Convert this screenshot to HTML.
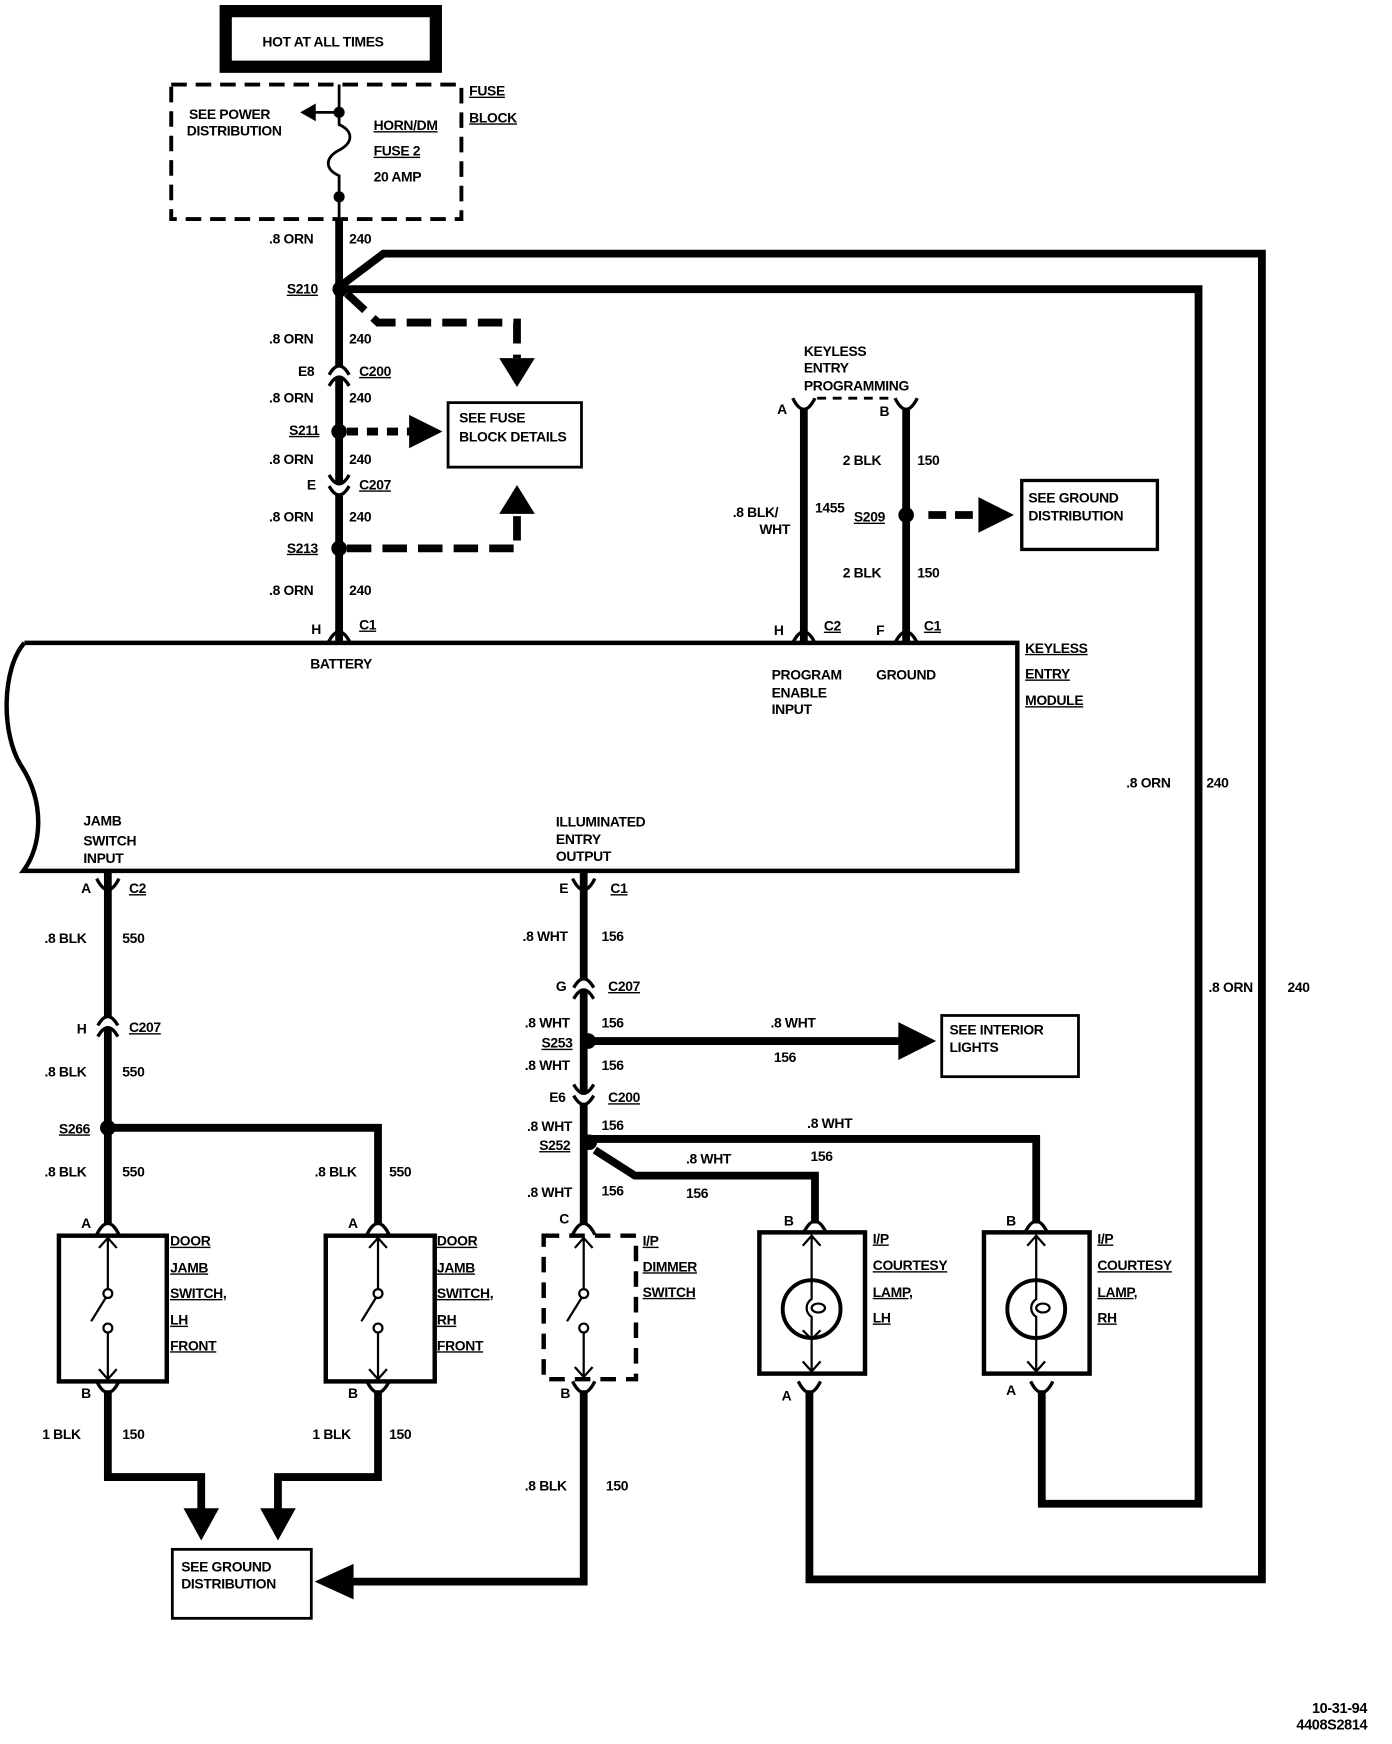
<!DOCTYPE html>
<html><head><meta charset="utf-8"><style>
html,body{margin:0;padding:0;background:#fff}
svg{display:block}
text{font-family:"Liberation Sans",sans-serif;font-weight:bold;font-size:12.5px;fill:#000;letter-spacing:-0.3px}
.u{text-decoration:underline}
</style></head><body>
<svg width="1392" height="1744" viewBox="0 0 1252 1568" preserveAspectRatio="none" xmlns="http://www.w3.org/2000/svg">
<defs>
<symbol id="icN" overflow="visible"><rect x="-13" y="-8" width="26" height="10" fill="#fff"/><path d="M-9,0 Q0,-16 9,0 M-9,10 Q0,-6 9,10" fill="none" stroke="#000" stroke-width="3"/></symbol>
<symbol id="icU" overflow="visible"><rect x="-13" y="-2" width="26" height="10" fill="#fff"/><path d="M-9,-10 Q0,6 9,-10 M-9,0 Q0,16 9,0" fill="none" stroke="#000" stroke-width="3"/></symbol>
<symbol id="cap" overflow="visible"><path d="M-10,10 Q0,-10 10,10" fill="none" stroke="#000" stroke-width="3"/></symbol>
<symbol id="cup" overflow="visible"><path d="M-10,-10 Q0,10 10,-10" fill="none" stroke="#000" stroke-width="3"/></symbol>
</defs>
<g fill="none" stroke="#000">
<!-- hot box -->
<rect x="203" y="10" width="189" height="50" stroke-width="11"/>
<!-- fuse block dashed -->
<rect x="154" y="76" width="261" height="121" stroke-width="3.5" stroke-dasharray="14,8"/>
<path d="M305,76 V112 C318,118 318,128 305,135 C292,142 292,152 305,158 V197" stroke-width="2.5"/>
<path d="M305,101 H282" stroke-width="2.5"/>
<!-- main trunk -->
<path d="M305,197 V578" stroke-width="7"/>
<!-- loops -->
<path d="M305,258 L345,228 H1135 V1420 H728 V1250" stroke-width="7"/>
<path d="M305,260 H1078 V1352 H937 V1250" stroke-width="7"/>
<!-- dashed to fuse block details -->
<path d="M312,264 L340,290 H465 V322" stroke-width="7" stroke-dasharray="22,10"/>
<path d="M312,388 H370" stroke-width="7" stroke-dasharray="10,8"/>
<path d="M312,493 H465 V462" stroke-width="7" stroke-dasharray="22,10"/>
<rect x="403" y="362" width="120" height="58" stroke-width="2.5"/>
<!-- keyless programming -->
<path d="M735,358 H805" stroke-width="2.5" stroke-dasharray="8,6"/>
<path d="M723,368 V578 M815,368 V578" stroke-width="7"/>
<path d="M835,463 H882" stroke-width="7" stroke-dasharray="16,8"/>
<rect x="919" y="432" width="122" height="62" stroke-width="3"/>
<!-- module -->
<path d="M22,578 H915 V783 H21 C38,760 40,722 20,690 C0,660 2,600 22,578" stroke-width="4"/>
<!-- jamb wires -->
<path d="M97,783 V1100 M97,1014 H340 V1100" stroke-width="7"/>
<path d="M97,1250 V1328 H181 V1360 M340,1250 V1328 H250 V1360" stroke-width="7"/>
<!-- illuminated -->
<path d="M525,783 V1100" stroke-width="7"/>
<path d="M525,936 H812" stroke-width="7"/>
<rect x="847" y="913" width="123" height="55" stroke-width="2.5"/>
<path d="M530,1024 H932 V1100 M535,1034 L571,1057 H733 V1100" stroke-width="7"/>
<path d="M525,1250 V1422 H315" stroke-width="7"/>
<rect x="155" y="1393" width="125" height="62" stroke-width="2.5"/>
<!-- switch boxes -->
<rect x="53" y="1111" width="97" height="131" stroke-width="4"/>
<rect x="293" y="1111" width="98" height="131" stroke-width="4"/>
<rect x="489" y="1111" width="83" height="129" stroke-width="4" stroke-dasharray="14,9"/>
<rect x="683" y="1108" width="95" height="127" stroke-width="4"/>
<rect x="885" y="1108" width="95" height="127" stroke-width="4"/>
<g stroke-width="2">
<path d="M97,1113 V1158 M89,1122 L97,1113 105,1122 M97,1198 V1240 M89,1231 L97,1240 105,1231 M95,1167 L82,1188"/>
<circle cx="97" cy="1163" r="4"/><circle cx="97" cy="1194" r="4"/>
<path d="M340,1113 V1158 M332,1122 L340,1113 348,1122 M340,1198 V1240 M332,1231 L340,1240 348,1231 M338,1167 L325,1188"/>
<circle cx="340" cy="1163" r="4"/><circle cx="340" cy="1194" r="4"/>
<path d="M525,1113 V1158 M517,1122 L525,1113 533,1122 M525,1198 V1238 M517,1229 L525,1238 533,1229 M523,1167 L510,1188"/>
<circle cx="525" cy="1163" r="4"/><circle cx="525" cy="1194" r="4"/>
<path d="M730,1111 V1168 C724,1172 724,1180 730,1184 V1233 M722,1120 L730,1111 738,1120 M722,1224 L730,1233 738,1224 M722,1196 L730,1204 738,1196"/>
<ellipse cx="736" cy="1176" rx="6" ry="4"/>
<circle cx="730" cy="1177" r="26" stroke-width="3.5"/>
<path d="M932,1111 V1168 C926,1172 926,1180 932,1184 V1233 M924,1120 L932,1111 940,1120 M924,1224 L932,1233 940,1224"/>
<ellipse cx="938" cy="1176" rx="6" ry="4"/>
<circle cx="932" cy="1177" r="26" stroke-width="3.5"/>
</g>
</g>
<!-- connectors -->
<use href="#icN" x="305" y="337"/>
<use href="#icU" x="305" y="437"/>
<use href="#cap" x="305" y="568"/>
<use href="#cap" x="723" y="568"/>
<use href="#cap" x="815" y="568"/>
<use href="#cup" x="723" y="368"/>
<use href="#cup" x="815" y="368"/>
<use href="#cup" x="97" y="800"/>
<use href="#cup" x="525" y="800"/>
<use href="#icN" x="97" y="922"/>
<use href="#icN" x="525" y="888"/>
<use href="#icU" x="525" y="985"/>
<use href="#cap" x="97" y="1100"/>
<use href="#cap" x="340" y="1100"/>
<use href="#cap" x="525" y="1100"/>
<use href="#cap" x="733" y="1098"/>
<use href="#cap" x="932" y="1098"/>
<use href="#cup" x="97" y="1252"/>
<use href="#cup" x="340" y="1252"/>
<use href="#cup" x="525" y="1252"/>
<use href="#cup" x="728" y="1252"/>
<use href="#cup" x="937" y="1252"/>
<!-- dots & arrowheads -->
<g fill="#000">
<circle cx="305" cy="101" r="5"/><circle cx="305" cy="177" r="5"/>
<path d="M270,101 L284,93 L284,109 Z"/>
<circle cx="306" cy="260" r="7"/><circle cx="305" cy="388" r="7"/><circle cx="305" cy="493" r="7"/>
<path d="M449,322 H481 L465,348 Z"/>
<path d="M449,462 H481 L465,436 Z"/>
<path d="M368,373 L398,388 L368,403 Z"/>
<circle cx="815" cy="463" r="7"/>
<path d="M880,447 L912,463 L880,479 Z"/>
<circle cx="97" cy="1014" r="7"/>
<circle cx="529" cy="936" r="7"/>
<path d="M808,919 L842,936 L808,953 Z"/>
<circle cx="530" cy="1027" r="7"/>
<path d="M165,1356 H197 L181,1385 Z"/>
<path d="M234,1356 H266 L250,1385 Z"/>
<path d="M318,1406 L283,1422 L318,1438 Z"/>
</g>
<!-- text -->
<text x="236" y="42">HOT AT ALL TIMES</text>
<text x="422" y="86" class="u">FUSE</text>
<text x="422" y="110" class="u">BLOCK</text>
<text x="170" y="107">SEE POWER</text>
<text x="168" y="122">DISTRIBUTION</text>
<text x="336" y="117" class="u">HORN/DM</text>
<text x="336" y="140" class="u">FUSE 2</text>
<text x="336" y="163">20 AMP</text>
<text x="242" y="219">.8 ORN</text><text x="314" y="219">240</text>
<text x="258" y="264" class="u">S210</text>
<text x="242" y="309">.8 ORN</text><text x="314" y="309">240</text>
<text x="268" y="338">E8</text><text x="323" y="338" class="u">C200</text>
<text x="242" y="362">.8 ORN</text><text x="314" y="362">240</text>
<text x="260" y="391" class="u">S211</text>
<text x="242" y="417">.8 ORN</text><text x="314" y="417">240</text>
<text x="276" y="440">E</text><text x="323" y="440" class="u">C207</text>
<text x="242" y="469">.8 ORN</text><text x="314" y="469">240</text>
<text x="258" y="497" class="u">S213</text>
<text x="242" y="535">.8 ORN</text><text x="314" y="535">240</text>
<text x="280" y="570">H</text><text x="323" y="566" class="u">C1</text>
<text x="413" y="380">SEE FUSE</text>
<text x="413" y="397">BLOCK DETAILS</text>
<text x="723" y="320">KEYLESS</text>
<text x="723" y="335">ENTRY</text>
<text x="723" y="351">PROGRAMMING</text>
<text x="699" y="372">A</text><text x="791" y="374">B</text>
<text x="758" y="418">2 BLK</text><text x="825" y="418">150</text>
<text x="659" y="465">.8 BLK/</text><text x="683" y="480">WHT</text>
<text x="733" y="461">1455</text>
<text x="768" y="469" class="u">S209</text>
<text x="758" y="519">2 BLK</text><text x="825" y="519">150</text>
<text x="925" y="452">SEE GROUND</text>
<text x="925" y="468">DISTRIBUTION</text>
<text x="696" y="571">H</text><text x="741" y="567" class="u">C2</text>
<text x="788" y="571">F</text><text x="831" y="567" class="u">C1</text>
<text x="922" y="587" class="u">KEYLESS</text>
<text x="922" y="610" class="u">ENTRY</text>
<text x="922" y="634" class="u">MODULE</text>
<text x="279" y="601">BATTERY</text>
<text x="694" y="611">PROGRAM</text>
<text x="694" y="627">ENABLE</text>
<text x="694" y="642">INPUT</text>
<text x="788" y="611">GROUND</text>
<text x="1013" y="708">.8 ORN</text><text x="1085" y="708">240</text>
<text x="1087" y="892">.8 ORN</text><text x="1158" y="892">240</text>
<text x="75" y="742">JAMB</text><text x="75" y="760">SWITCH</text><text x="75" y="776">INPUT</text>
<text x="500" y="743">ILLUMINATED</text><text x="500" y="759">ENTRY</text><text x="500" y="774">OUTPUT</text>
<text x="73" y="803">A</text><text x="116" y="803" class="u">C2</text>
<text x="503" y="803">E</text><text x="549" y="803" class="u">C1</text>
<text x="40" y="848">.8 BLK</text><text x="110" y="848">550</text>
<text x="470" y="846">.8 WHT</text><text x="541" y="846">156</text>
<text x="500" y="891">G</text><text x="547" y="891" class="u">C207</text>
<text x="69" y="929">H</text><text x="116" y="928" class="u">C207</text>
<text x="472" y="924">.8 WHT</text><text x="541" y="924">156</text>
<text x="487" y="942" class="u">S253</text>
<text x="693" y="924">.8 WHT</text><text x="696" y="955">156</text>
<text x="854" y="930">SEE INTERIOR</text><text x="854" y="946">LIGHTS</text>
<text x="40" y="968">.8 BLK</text><text x="110" y="968">550</text>
<text x="472" y="962">.8 WHT</text><text x="541" y="962">156</text>
<text x="494" y="991">E6</text><text x="547" y="991" class="u">C200</text>
<text x="53" y="1019" class="u">S266</text>
<text x="474" y="1017">.8 WHT</text><text x="541" y="1016">156</text>
<text x="485" y="1034" class="u">S252</text>
<text x="726" y="1014">.8 WHT</text>
<text x="617" y="1046">.8 WHT</text><text x="729" y="1044">156</text>
<text x="617" y="1077">156</text>
<text x="40" y="1058">.8 BLK</text><text x="110" y="1058">550</text>
<text x="283" y="1058">.8 BLK</text><text x="350" y="1058">550</text>
<text x="474" y="1076">.8 WHT</text><text x="541" y="1075">156</text>
<text x="73" y="1104">A</text><text x="313" y="1104">A</text><text x="503" y="1100">C</text>
<text x="705" y="1102">B</text><text x="905" y="1102">B</text>
<text x="153" y="1120" class="u">DOOR</text><text x="153" y="1144" class="u">JAMB</text>
<text x="153" y="1167" class="u">SWITCH,</text><text x="153" y="1191" class="u">LH</text>
<text x="153" y="1214" class="u">FRONT</text>
<text x="393" y="1120" class="u">DOOR</text><text x="393" y="1144" class="u">JAMB</text>
<text x="393" y="1167" class="u">SWITCH,</text><text x="393" y="1191" class="u">RH</text>
<text x="393" y="1214" class="u">FRONT</text>
<text x="578" y="1120" class="u">I/P</text><text x="578" y="1143" class="u">DIMMER</text>
<text x="578" y="1166" class="u">SWITCH</text>
<text x="785" y="1118" class="u">I/P</text><text x="785" y="1142" class="u">COURTESY</text>
<text x="785" y="1166" class="u">LAMP,</text><text x="785" y="1189" class="u">LH</text>
<text x="987" y="1118" class="u">I/P</text><text x="987" y="1142" class="u">COURTESY</text>
<text x="987" y="1166" class="u">LAMP,</text><text x="987" y="1189" class="u">RH</text>
<text x="73" y="1257">B</text><text x="313" y="1257">B</text><text x="504" y="1257">B</text>
<text x="703" y="1259">A</text><text x="905" y="1254">A</text>
<text x="38" y="1294">1 BLK</text><text x="110" y="1294">150</text>
<text x="281" y="1294">1 BLK</text><text x="350" y="1294">150</text>
<text x="472" y="1340">.8 BLK</text><text x="545" y="1340">150</text>
<text x="163" y="1413">SEE GROUND</text><text x="163" y="1428">DISTRIBUTION</text>
<text x="1180" y="1540" style="font-size:13px">10-31-94</text>
<text x="1166" y="1555" style="font-size:13px">4408S2814</text>
</svg>
</body></html>
